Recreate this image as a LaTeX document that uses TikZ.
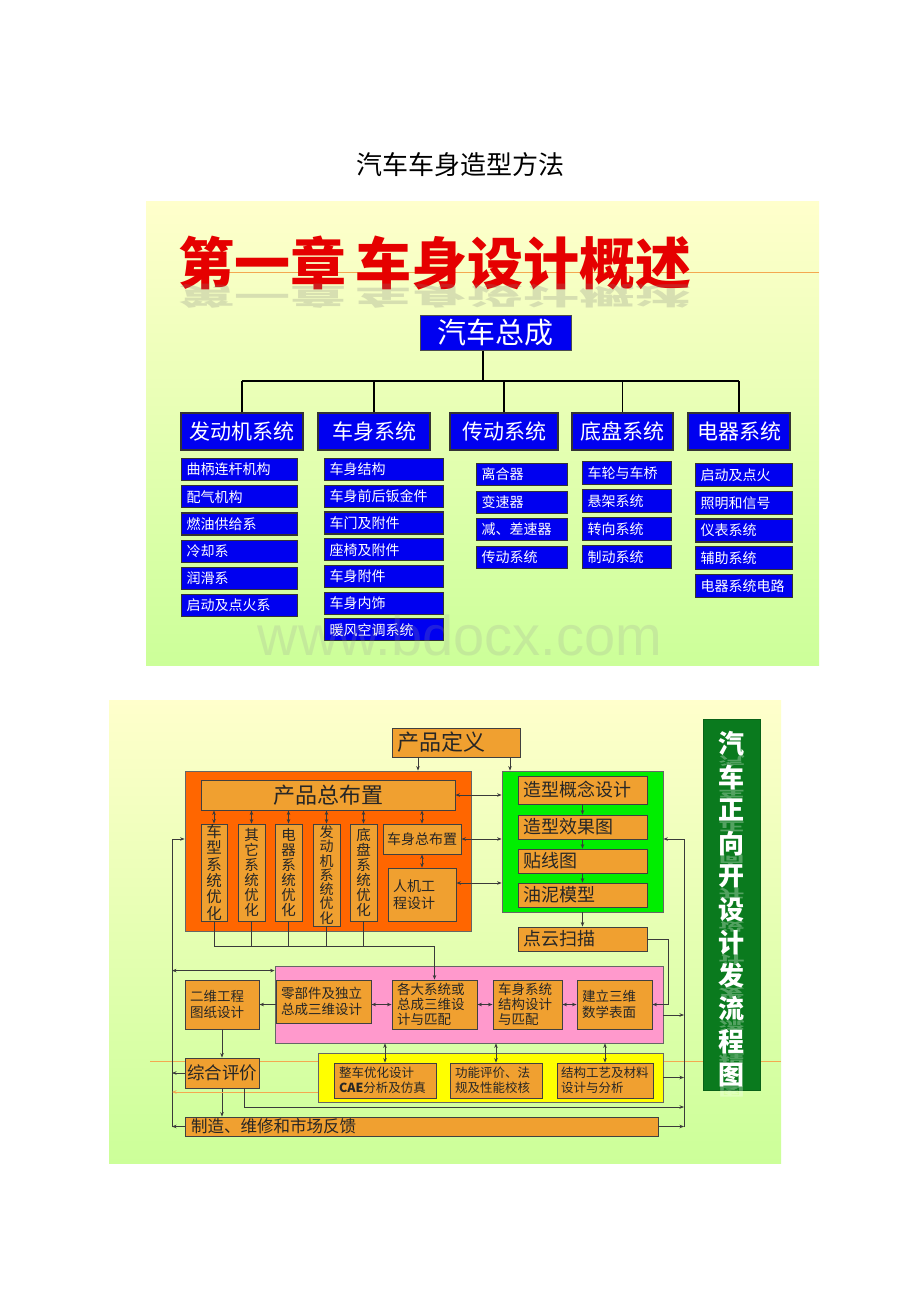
\documentclass[tikz,border=0pt]{standalone}
\usepackage{fontspec}
\setmainfont{Noto Sans CJK SC}
\newfontfamily\wmfont{Liberation Sans}
\usetikzlibrary{arrows.meta}
\definecolor{slidetop}{HTML}{FFFFCC}
\definecolor{slidebot}{HTML}{CCFF99}
\definecolor{hdblue}{HTML}{0000F0}
\definecolor{boxtan}{HTML}{F0A030}
\definecolor{boxorange}{HTML}{FF6600}
\definecolor{boxgreen}{HTML}{00EE00}
\definecolor{boxpink}{HTML}{FF99CC}
\definecolor{boxyellow}{HTML}{FFFF00}
\definecolor{bannergreen}{HTML}{0A7A1E}
\definecolor{rulecol}{HTML}{F4A850}
\definecolor{wirecol}{HTML}{3A3A3A}
\newcommand\fsz[2]{\fontsize{#1}{#2}\selectfont}
\begin{document}
\begin{tikzpicture}[x=1pt,y=-1pt,>={Stealth[length=4.5pt,width=3.5pt]}]
\tikzset{bluehead/.style={draw=black!80,line width=1.5pt,fill=hdblue,text=white,font=\fsz{21}{24},minimum height=37,inner sep=0pt},
  bluesub/.style={draw=black!80,line width=1.2pt,fill=hdblue,text=white,font=\fsz{14}{16},anchor=north west,inner xsep=5pt,inner ysep=0pt,align=left},
  tanbox/.style={draw=black!75,line width=0.9pt,fill=boxtan,text=black!85,inner sep=0pt},
  tanleft/.style={tanbox,align=left,inner xsep=5pt},
  holder/.style={draw=black!60,line width=0.8pt,inner sep=0pt},
  wire/.style={draw=wirecol,line width=0.8pt}}
\useasboundingbox (0,0) rectangle (920,1302);
\fill[white] (0,0) rectangle (920,1302);
\node[font=\fsz{26}{28}] (doctitle) at (460,165) {汽车车身造型方法};
% first slide
\shade[top color=slidetop,bottom color=slidebot] (146,201) rectangle (819,665);
\draw[rulecol,line width=1pt] (197,272) -- (819,272);
\node[font=\fsz{56}{56}\bfseries,text=red!90!black] (chap) at (435,263) {第一章\hspace{10pt}车身设计概述};
\node[font=\fsz{56}{56}\bfseries,text=black!50,opacity=0.25,yscale=-0.45,transform shape] (chapmirror) at (435,296) {第一章\hspace{10pt}车身设计概述};
\node[draw=black!70,line width=1pt,fill=hdblue,text=white,font=\fsz{29}{30},minimum width=151,minimum height=35,inner sep=0pt] (auto) at (495.5,332.5) {汽车总成};
\node[bluehead,minimum width=122] (engine) at (242,431.5) {发动机系统};
\node[bluehead,minimum width=112] (body) at (374,431.5) {车身系统};
\node[bluehead,minimum width=108] (trans) at (504,431.5) {传动系统};
\node[bluehead,minimum width=101] (chassis) at (622.5,431.5) {底盘系统};
\node[bluehead,minimum width=102] (elec) at (739,431.5) {电器系统};
\coordinate (bus) at (483,381);
\draw[line width=1.8pt] ([xshift=-12.5pt]auto.south) -- ([xshift=-12.5pt]auto.south |- bus);
\draw[line width=1.8pt] (engine.north |- bus) -- (elec.north |- bus);
\foreach \h in {engine,body,trans,chassis,elec}
  \draw[line width=1.8pt] (\h.north |- bus) -- (\h.north);
\foreach \txt [count=\i] in {曲柄连杆机构,配气机构,燃油供给系,冷却系,润滑系,启动及点火系}
  \node[bluesub,text width=106,minimum height=22] (eng\i) at (181,{458+27.2*(\i-1)}) {\txt};
\foreach \txt [count=\i] in {车身结构,车身前后钣金件,车门及附件,座椅及附件,车身附件,车身内饰,暖风空调系统}
  \node[bluesub,text width=109,minimum height=22] (bod\i) at (324,{458+26.7*(\i-1)}) {\txt};
\foreach \txt [count=\i] in {离合器,变速器,减、差速器,传动系统}
  \node[bluesub,text width=81,minimum height=22] (tra\i) at (476,{463+27.5*(\i-1)}) {\txt};
\foreach \txt [count=\i] in {车轮与车桥,悬架系统,转向系统,制动系统}
  \node[bluesub,text width=79,minimum height=23] (cha\i) at (582,{461+27.9*(\i-1)}) {\txt};
\foreach \txt [count=\i] in {启动及点火,照明和信号,仪表系统,辅助系统,电器系统电路}
  \node[bluesub,text width=87,minimum height=23] (ele\i) at (695,{463+27.7*(\i-1)}) {\txt};
\node[font=\wmfont\fsz{56}{56},text=black!40,opacity=0.2] (wmark) at (460,635) {www.bdocx.com};
% second slide
\shade[top color=slidetop,bottom color=slidebot] (109,700) rectangle (781,1163);
\draw[rulecol,line width=1pt] (150,1061) -- (781,1061);
\node[holder,fill=boxorange,minimum width=286,minimum height=160] (orng) at (328,851) {};
\node[holder,fill=boxgreen,minimum width=161,minimum height=141] (grn) at (582.5,841.5) {};
\node[holder,fill=boxpink,minimum width=388,minimum height=77] (pink) at (469,1004.5) {};
\node[holder,fill=boxyellow,minimum width=345,minimum height=49] (yel) at (490.5,1077.5) {};
\node[tanleft,text width=118,minimum height=29,font=\fsz{22}{24}] (pdef) at (456,742.5) {产品定义};
\node[tanbox,minimum width=254,minimum height=30,font=\fsz{22}{24}] (layout) at (328,795) {产品总布置};
\node[tanbox,minimum width=26,minimum height=97,font=\fsz{15.5}{16.3},align=center] (v1) at (214,872.5) {车\\型\\系\\统\\优\\化};
\node[tanbox,minimum width=27,minimum height=97,font=\fsz{14.5}{15},align=center] (v2) at (251.5,872.5) {其\\它\\系\\统\\优\\化};
\node[tanbox,minimum width=27,minimum height=97,font=\fsz{14.5}{15},align=center] (v3) at (288.5,872.5) {电\\器\\系\\统\\优\\化};
\node[tanbox,minimum width=27,minimum height=102,font=\fsz{14}{14.3},align=center] (v4) at (326.5,875) {发\\动\\机\\系\\统\\优\\化};
\node[tanbox,minimum width=27,minimum height=97,font=\fsz{14.5}{15},align=center] (v5) at (363.5,872.5) {底\\盘\\系\\统\\优\\化};
\node[tanbox,minimum width=78,minimum height=30,font=\fsz{14}{16}] (bodylay) at (422,839) {车身总布置};
\node[tanleft,text width=58,minimum height=53,font=\fsz{14}{16.5}] (ergo) at (422,894.5) {人机工\\程设计};
\node[tanleft,text width=119,minimum height=28,font=\fsz{18}{20}] (sty1) at (582.5,790) {造型概念设计};
\node[tanleft,text width=119,minimum height=24,font=\fsz{18}{20}] (sty2) at (582.5,827) {造型效果图};
\node[tanleft,text width=119,minimum height=24,font=\fsz{18}{20}] (sty3) at (582.5,861) {贴线图};
\node[tanleft,text width=119,minimum height=24,font=\fsz{18}{20}] (sty4) at (582.5,895) {油泥模型};
\node[tanleft,text width=119,minimum height=24,font=\fsz{18}{20}] (scan) at (582.5,939) {点云扫描};
\node[tanleft,text width=85,minimum height=43,font=\fsz{13.5}{15.5}] (part) at (323.5,1001.5) {零部件及独立\\总成三维设计};
\node[tanleft,text width=75,minimum height=49,font=\fsz{13.5}{15}] (sys) at (434.5,1004.5) {各大系统或\\总成三维设\\计与匹配};
\node[tanleft,text width=59,minimum height=49,font=\fsz{13.5}{15}] (bstr) at (527.5,1004.5) {车身系统\\结构设计\\与匹配};
\node[tanleft,text width=65,minimum height=49,font=\fsz{13.5}{15.5}] (surf) at (614.5,1004.5) {建立三维\\数学表面};
\node[tanleft,text width=64,minimum height=49,font=\fsz{13.5}{15.5}] (draw2d) at (222,1004.5) {二维工程\\图纸设计};
\node[tanleft,text width=92,inner xsep=5pt,minimum height=35,font=\fsz{12.5}{15}] (cae) at (385,1080.5) {整车优化设计\\\textbf{CAE}分析及仿真};
\node[tanleft,text width=82,minimum height=35,font=\fsz{12.5}{15}] (func) at (496,1080.5) {功能评价、法\\规及性能校核};
\node[tanleft,text width=88,inner xsep=4pt,minimum height=35,font=\fsz{12.5}{15}] (proc) at (605,1080.5) {结构工艺及材料\\设计与分析};
\node[tanleft,text width=70,inner xsep=2pt,minimum height=30,font=\fsz{17.5}{19}] (eval) at (222,1073) {综合评价};
\node[tanleft,text width=461,inner xsep=6pt,minimum height=19,font=\fsz{16.5}{17}] (mfg) at (421.5,1126.5) {制造、维修和市场反馈};
\node[fill=bannergreen,draw=bannergreen!80!black,minimum width=57,minimum height=371,inner sep=0pt] (banner) at (731.5,904.5) {};
\foreach \ch [count=\i] in {汽,车,正,向,开,设,计,发,流,程,图} {
  \node[font=\fsz{26}{26}\bfseries,text=white] (bc\i) at (731.5,{744+33.1*(\i-1)}) {\ch};
  \node[font=\fsz{26}{26}\bfseries,text=white,opacity=0.3,yscale=-0.45,transform shape] (bm\i) at (731.5,{761+33.1*(\i-1)}) {\ch};
}
% connectors
\draw[wire,->] ([xshift=-38pt]pdef.south) -- ([xshift=-38pt]pdef.south |- orng.north);
\draw[wire,->] ([xshift=54pt]pdef.south) -- ([xshift=54pt]pdef.south |- grn.north);
\draw[wire,<->] (layout.east) -- (layout.east -| grn.west);
\draw[wire,<->] (bodylay.east) -- (bodylay.east -| grn.west);
\draw[wire,<->] ([yshift=11.5pt]ergo.east) -- ([yshift=11.5pt]ergo.east -| grn.west);
\foreach \v in {v1,v2,v3,v4,v5,bodylay}
  \draw[wire,<->] (\v.north |- layout.south) -- (\v.north);
\draw[wire,<->] (bodylay.south) -- (ergo.north);
\foreach \a/\b in {sty1/sty2,sty2/sty3,sty3/sty4}
  \draw[wire,->] (\a.south) -- (\b.north);
\draw[wire,->] (sty4.south |- grn.south) -- (scan.north);
\draw[wire,->] (scan.east) -| ([xshift=16pt]surf.east) -- (surf.east);
\coordinate (vbus) at (0,946);
\foreach \v in {v1,v2,v3,v4,v5}
  \draw[wire] (\v.south) -- (\v.south |- vbus);
\draw[wire,->] (v1.south |- vbus) -| (sys.north);
\draw[wire,<->] (part.east |- sys.west) -- (sys.west);
\draw[wire,<->] (sys.east) -- (bstr.west);
\draw[wire,<->] (bstr.east) -- (surf.west);
\draw[wire,->] (part.west |- draw2d.east) -- (draw2d.east);
\draw[wire,->] (draw2d.south) -- (eval.north);
\draw[wire,->] (eval.south) -- (eval.south |- mfg.north);
\foreach \b in {cae,func,proc}
  \draw[wire,<->] (\b.north |- pink.south) -- (\b.north);
\coordinate (ltop) at (172,839);
\coordinate (lbot) at (172,1127);
\draw[wire,->] (lbot) -- (ltop) -- (ltop -| orng.west);
\draw[wire,<->] ([yshift=-5pt]pink.north west) -- ([yshift=-5pt]pink.north west -| ltop);
\draw[wire,->] (eval.west) -- (eval.west -| ltop);
\draw[wire,->] (mfg.west) -- (mfg.west -| ltop);
\draw[rulecol,line width=0.9pt,->] ([yshift=-14.5pt]yel.west) -- ([yshift=-14.5pt]yel.west -| ltop);
\coordinate (rtop) at (684,839);
\coordinate (rbot) at (684,1127);
\coordinate (evline) at (684,1107);
\draw[wire,->] (rbot) -- (rtop) -- (rtop -| grn.east);
\draw[wire,->] ([yshift=-10.5pt]pink.east) -- ([yshift=-10.5pt]pink.east -| rtop);
\draw[wire,->] (yel.east) -- (yel.east -| rtop);
\draw[wire,->] (mfg.east) -- (mfg.east -| rtop);
\draw[wire,->] ([xshift=22pt]eval.south) |- (evline);
\end{tikzpicture}
\end{document}
